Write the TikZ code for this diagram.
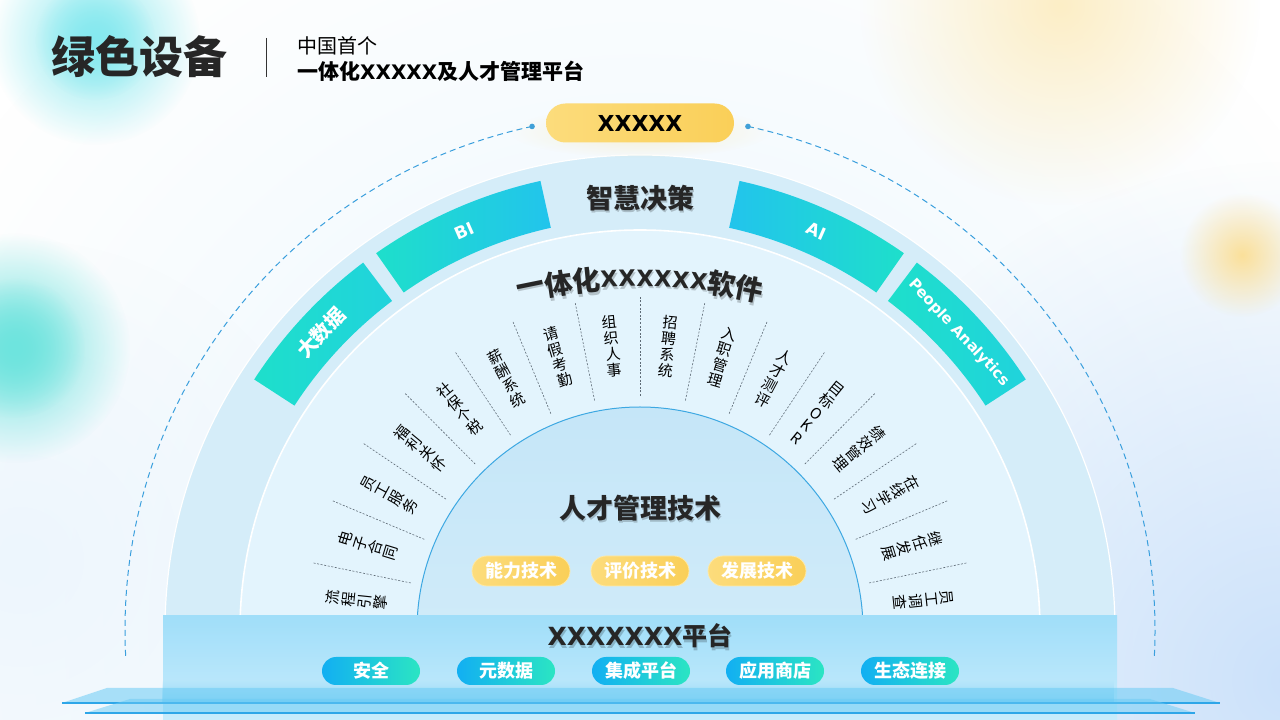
\documentclass[tikz,border=0pt]{standalone}
\usepackage{fontspec}
\usepackage{graphicx}
\setmainfont{Noto Sans CJK SC}
\newfontfamily\djv{DejaVu Sans}
\usetikzlibrary{fadings}
\definecolor{bandTeal}{HTML}{1EDFCB}
\definecolor{bandBlue}{HTML}{22C4EC}
\definecolor{bandMid}{HTML}{20D3DC}
\definecolor{ringOuter}{HTML}{D5EDF9}
\definecolor{ringInner}{HTML}{E3F4FD}
\definecolor{coreTop}{HTML}{C5E6F8}
\definecolor{coreBot}{HTML}{DAF0FB}
\definecolor{coreEdge}{HTML}{3DA8E2}
\definecolor{dashBlue}{HTML}{3A9FDD}
\definecolor{txtDark}{HTML}{262626}
\definecolor{pillYelL}{HTML}{FCDC7C}
\definecolor{pillYelR}{HTML}{FACF58}
\definecolor{pillYelEdge}{HTML}{FDE9A8}
\definecolor{pillBlue}{HTML}{12AFF2}
\definecolor{pillGreen}{HTML}{2BE5C3}
\definecolor{platTop}{HTML}{A0DEF9}
\definecolor{platBot}{HTML}{C8ECFC}
\definecolor{plateFill}{HTML}{6BCBF4}
\definecolor{plateEdge}{HTML}{2EA6E8}
\definecolor{divGray}{HTML}{5E6B76}
\definecolor{blobCyan}{HTML}{86E9EF}
\definecolor{blobTeal}{HTML}{6EE4DE}
\definecolor{blobYelBig}{HTML}{FCEEC6}
\definecolor{blobYelSm}{HTML}{FBE09A}
\definecolor{blobBlueBR}{HTML}{CBE1FA}
\definecolor{blobBlueBL}{HTML}{EDF6FD}
\definecolor{discGlow}{HTML}{E8F5FD}
\newcommand\fsz[1]{\fontsize{#1}{#1}\selectfont}
\newcommand\xch{{\djv\bfseries\fsz{22.5}X}}
\tikzfading[name=softblob, inner color=transparent!0, outer color=transparent!100]
\tikzfading[name=fadeup, top color=transparent!100, bottom color=transparent!0]
\tikzset{
  itemlbl/.style={font=\fontsize{15}{16}\selectfont, align=center, inner sep=0pt, text=black},
  divline/.style={draw=divGray, line width=0.6pt, dash pattern=on 2pt off 1.6pt},
  bandlbl/.style={text=white, inner sep=0pt},
  arctitle/.style={font=\bfseries\fsz{28}, text=txtDark, inner sep=0pt},
  shadowtxt/.style={text=black, opacity=0.2},
  yelpill/.style={rounded corners=15pt, minimum width=98pt, minimum height=30pt, left color=pillYelL, right color=pillYelR, draw=pillYelEdge, line width=0.8pt, text=white, font=\bfseries\fsz{18}, inner sep=0pt},
  basepill/.style={rounded corners=14pt, minimum width=98pt, minimum height=28pt, left color=pillBlue, right color=pillGreen, text=white, font=\bfseries\fsz{18}, inner sep=0pt},
  bigtitle/.style={font=\bfseries\fsz{27}, text=txtDark, inner sep=0pt},
}
\begin{document}
\begin{tikzpicture}[x=1pt,y=1pt]
\useasboundingbox (0,0) rectangle (1280,720);
\fill[white] (0,0) rectangle (1280,720);
% soft background blobs
\fill[discGlow, path fading=softblob] (640,90) circle (820);
\fill[blobBlueBR, path fading=softblob] (1290,40) circle (520);
\fill[blobBlueBL, path fading=softblob] (20,160) circle (320);
\fill[blobYelBig, path fading=softblob] (1060,715) circle (200);
\fill[blobYelSm, path fading=softblob] (1242,465) circle (62);
\fill[blobCyan, path fading=softblob] (95,680) circle (105);
\fill[blobCyan, path fading=softblob] (95,680) circle (60);
\fill[blobTeal, path fading=softblob] (15,372) circle (115);
\fill[blobTeal, path fading=softblob] (15,372) circle (70);

\begin{scope}[shift={(640,90)}]
  % dashed outer arc
  \coordinate (dashR) at (77.9:515);
  \coordinate (dashL) at (102.1:515);
  \draw[dashBlue, line width=1pt, dash pattern=on 6pt off 4pt] (dashR) arc[start angle=77.9, end angle=-3, radius=515];
  \draw[dashBlue, line width=1pt, dash pattern=on 6pt off 4pt] (dashL) arc[start angle=102.1, end angle=183, radius=515];
  \fill[dashBlue] (dashR) circle (2.8);
  \fill[dashBlue] (dashL) circle (2.8);
  % discs
  \fill[ringOuter] (0,0) circle (475);
  \draw[white, line width=1.2pt] (0,0) circle (475);
  \fill[ringInner] (0,0) circle (400);
  \draw[white, line width=1.6pt] (0,0) circle (400);
  \shade[top color=coreTop, bottom color=coreBot] (0,0) circle (223);
  \draw[coreEdge, line width=1pt] (0,0) circle (223);
  % bands
  \shade[left color=bandTeal, right color=bandMid] (147:460) arc[start angle=147, end angle=127, radius=460] -- (127:412) arc[start angle=127, end angle=147, radius=412] -- cycle;
  \shade[left color=bandTeal, right color=bandBlue] (125:460) arc[start angle=125, end angle=102.5, radius=460] -- (102.5:412) arc[start angle=102.5, end angle=125, radius=412] -- cycle;
  \shade[left color=bandBlue, right color=bandTeal] (77.5:460) arc[start angle=77.5, end angle=55, radius=460] -- (55:412) arc[start angle=55, end angle=77.5, radius=412] -- cycle;
  \shade[left color=bandTeal, right color=bandMid] (53:460) arc[start angle=53, end angle=33, radius=460] -- (33:412) arc[start angle=33, end angle=53, radius=412] -- cycle;
  \node[bandlbl, font=\bfseries\fsz{20}, rotate=47] (bd) at (137:436) {大数据};
  \node[bandlbl, font=\djv\bfseries\fsz{17}, rotate=23.8] (bi) at (113.8:436) {BI};
  \node[bandlbl, font=\djv\bfseries\fsz{17}, rotate=-23.8] (ai) at (66.2:436) {AI};
  \node[bandlbl, font=\djv\bfseries\fsz{15}, rotate=-47] (pa) at (43:436) {People Analytics};
  % dividers
  \foreach \a [count=\i] in {11.6,22.8,34,45.2,56.4,67.6,78.8,90,101.2,112.4,123.6,134.8,146,157.2,168.4}{
    \coordinate (dvi\i) at (\a:234);
    \coordinate (dvo\i) at (\a:334);
    \draw[divline] (dvi\i) -- (dvo\i);
  }
  % item labels
  \foreach \a/\t/\r [count=\i] in {174/{流\\程\\引\\擎}/285,162.8/{电\\子\\合\\同}/285,151.6/{员\\工\\服\\务}/285,140.4/{福\\利\\关\\怀}/285,129.2/{社\\保\\个\\税}/285,118/{薪\\酬\\系\\统}/285,106.8/{请\\假\\考\\勤}/285,95.6/{组\\织\\人\\事}/285,84.4/{招\\聘\\系\\统}/285,73.2/{入\\职\\管\\理}/285,62/{人\\才\\测\\评}/285,50.8/{目\\标\\O\\K\\R}/280,39.6/{绩\\效\\管\\理}/285,28.4/{在\\线\\学\\习}/285,17.2/{继\\任\\发\\展}/285,6/{员\\工\\调\\查}/285}{
    \node[itemlbl, rotate=\a-90] (item\i) at (\a:\r) {\t};
  }
  % center text
  \node[bigtitle, shadowtxt] (zhs) at (1.2,429.5) {智慧决策};
  \node[bigtitle] (zh) at (0,432) {智慧决策};
  \node[bigtitle, shadowtxt] (rcs) at (1.2,119.5) {人才管理技术};
  \node[bigtitle] (rc) at (0,122) {人才管理技术};
  \node[yelpill] (p1) at (-119,59) {能力技术};
  \node[yelpill] (p2) at (0,59) {评价技术};
  \node[yelpill] (p3) at (117,59) {发展技术};
\end{scope}

% curved title
\begin{scope}[shift={(640,-108)}]
  \foreach \ch/\off [count=\i] in {一/-110,体/-82,化/-54,\xch/-31,\xch/-13,\xch/5,\xch/23,\xch/41,\xch/59,软/82,件/110}{
    \pgfmathsetmacro\ang{90-\off*0.10417}
    \node[arctitle, shadowtxt, rotate=\ang-90] (sws\i) at ([shift={(1.2,-2.5)}]\ang:550) {\ch};
    \node[arctitle, rotate=\ang-90] (sw\i) at (\ang:550) {\ch};
  }
\end{scope}

% platform
\shade[top color=platTop, bottom color=platBot] (163,0) rectangle (1117,104);
\fill[plateFill, opacity=0.55, path fading=fadeup] (163,17) rectangle (1117,40);
\fill[plateFill, opacity=0.55] (62,17) -- (1220,17) -- (1173,32) -- (107,32) -- cycle;
\draw[plateEdge, line width=1.2pt] (62,17) -- (1220,17);
\fill[plateFill, opacity=0.5] (85,7) -- (1195,7) -- (1150,21) -- (130,21) -- cycle;
\draw[plateEdge, line width=1.2pt] (85,7) -- (1195,7);
\node[font=\bfseries\fsz{25}, shadowtxt, inner sep=0pt] (plts) at (641.2,81.5) {{\djv\fsz{25}XXXXXXX}平台};
\node[font=\bfseries\fsz{25}, text=txtDark, inner sep=0pt] (plt) at (640,84) {{\djv\fsz{25}XXXXXXX}平台};
\node[basepill] (b1) at (371,49) {安全};
\node[basepill] (b2) at (506,49) {元数据};
\node[basepill] (b3) at (641,49) {集成平台};
\node[basepill] (b4) at (775,49) {应用商店};
\node[basepill] (b5) at (910,49) {生态连接};

% top pill
\fill[pillYelR, opacity=0.25, path fading=softblob] (640,588) ellipse (130 and 26);
\node[rounded corners=19.5pt, minimum width=188pt, minimum height=39pt, left color=pillYelL, right color=pillYelR, inner sep=0pt, font=\djv\bfseries\fsz{22}, text=black] (top) at (640,597) {XXXXX};

% header
\node[anchor=west, font=\bfseries\fsz{44}, text=txtDark, inner sep=0pt] (title) at (51,663) {绿色设备};
\draw[black!80, line width=0.8pt] (266,682) -- (266,643);
\node[anchor=west, font=\fsz{20}, text=black, inner sep=0pt] (sub1) at (297,674) {中国首个};
\node[anchor=west, font=\bfseries\fsz{21}, text=black, inner sep=0pt] (sub2) at (297,649) {一体化{\djv\fsz{20}XXXXX}及人才管理平台};
\end{tikzpicture}
\end{document}
